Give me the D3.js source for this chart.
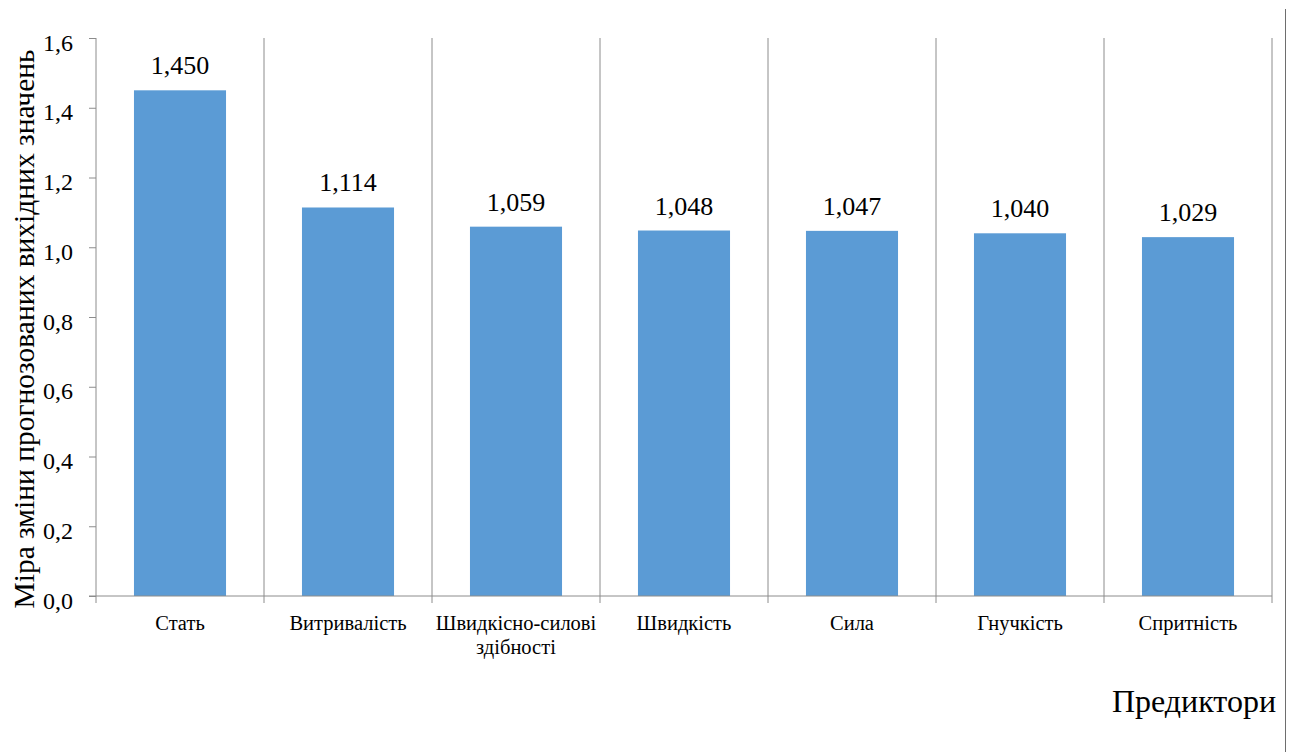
<!DOCTYPE html>
<html>
<head>
<meta charset="utf-8">
<script src="https://cdn.jsdelivr.net/npm/d3@7"></script>
<style>
  body { margin: 0; background: #fff; }
  svg { display: block; }
</style>
</head>
<body>
<svg id="chart" width="1296" height="752"></svg>
<script>
// categories and values
const categories = ["Стать", "Витривалість", "Швидкісно-силові здібності", "Швидкість", "Сила", "Гнучкість", "Спритність"];
const catLines = [["Стать"], ["Витривалість"], ["Швидкісно-силові", "здібності"], ["Швидкість"], ["Сила"], ["Гнучкість"], ["Спритність"]];
const values = [1.450, 1.114, 1.059, 1.048, 1.047, 1.040, 1.029];
const yTicks = [0, 0.2, 0.4, 0.6, 0.8, 1.0, 1.2, 1.4, 1.6];

const svg = d3.select("#chart");
const plotLeft = 96, plotRight = 1272, plotTop = 38, plotBottom = 596;
const serif = '"Liberation Serif"';

const x = d3.scaleBand().domain(categories).range([plotLeft, plotRight]).paddingInner(0.452).paddingOuter(0.226);
const y = d3.scaleLinear().domain([0, 1.6]).range([plotBottom, plotTop]);
const comma = v => v.toFixed(1).replace(".", ",");

// vertical gridlines at category boundaries
const step = x.step();
const bounds = d3.range(1, categories.length + 1).map(i => plotLeft + i * step);
svg.append("g").selectAll("line").data(bounds).enter().append("line")
  .attr("x1", d => d).attr("x2", d => d).attr("y1", plotTop).attr("y2", plotBottom)
  .attr("stroke", "#8c8c8c").attr("stroke-width", 1);

// bars
svg.append("g").selectAll("rect").data(values).enter().append("rect")
  .attr("x", (d, i) => x(categories[i]))
  .attr("width", x.bandwidth())
  .attr("y", d => y(d))
  .attr("height", d => y(0) - y(d))
  .attr("fill", "#5b9bd5");

// data labels
svg.append("g").selectAll("text").data(values).enter().append("text")
  .attr("x", (d, i) => x(categories[i]) + x.bandwidth() / 2)
  .attr("y", d => y(d) - 16)
  .attr("text-anchor", "middle")
  .style("font-family", serif).style("font-size", "26px").style("fill", "#000")
  .text(d => d.toFixed(3).replace(".", ","));

// y axis
const yAxis = svg.append("g").attr("transform", `translate(${plotLeft},0)`)
  .call(d3.axisLeft(y).tickValues(yTicks).tickFormat(comma).tickSize(7).tickPadding(16));
yAxis.attr("font-family", serif);
yAxis.select(".domain").attr("stroke", "#8c8c8c").attr("d", `M0,${plotTop}V${plotBottom}`);
yAxis.selectAll(".tick line").attr("stroke", "#8c8c8c");
yAxis.selectAll(".tick text").style("font-family", serif).style("font-size", "24px")
  .attr("fill", "#000").attr("dy", "0.5em");

// x axis line + ticks at boundaries
svg.append("line").attr("x1", plotLeft - 7).attr("x2", plotRight).attr("y1", plotBottom).attr("y2", plotBottom)
  .attr("stroke", "#8c8c8c");
svg.append("g").selectAll("line").data([plotLeft].concat(bounds)).enter().append("line")
  .attr("x1", d => d).attr("x2", d => d).attr("y1", plotBottom).attr("y2", plotBottom + 7)
  .attr("stroke", "#8c8c8c");

// category labels
const catG = svg.append("g").selectAll("text").data(catLines).enter().append("text")
  .attr("x", (d, i) => x(categories[i]) + x.bandwidth() / 2)
  .attr("y", 630)
  .attr("text-anchor", "middle")
  .style("font-family", serif).style("font-size", "20.5px").style("fill", "#000");
catG.selectAll("tspan").data(d => d).enter().append("tspan")
  .attr("x", function() { return this.parentNode.getAttribute("x"); })
  .attr("dy", (d, i) => i === 0 ? 0 : 24)
  .text(d => d);

// axis titles
svg.append("text")
  .attr("transform", "translate(34,329) rotate(-90)")
  .attr("text-anchor", "middle")
  .style("font-family", serif).style("font-size", "29.5px").style("fill", "#000")
  .text("Міра зміни прогнозованих вихідних значень");

svg.append("text")
  .attr("x", 1276).attr("y", 712)
  .attr("text-anchor", "end")
  .style("font-family", serif).style("font-size", "32px").style("fill", "#000")
  .text("Предиктори");

// right border line
svg.append("line").attr("x1", 1285.5).attr("x2", 1285.5).attr("y1", 9).attr("y2", 752)
  .attr("stroke", "#6e6e6e").attr("stroke-width", 1);
</script>
</body>
</html>
